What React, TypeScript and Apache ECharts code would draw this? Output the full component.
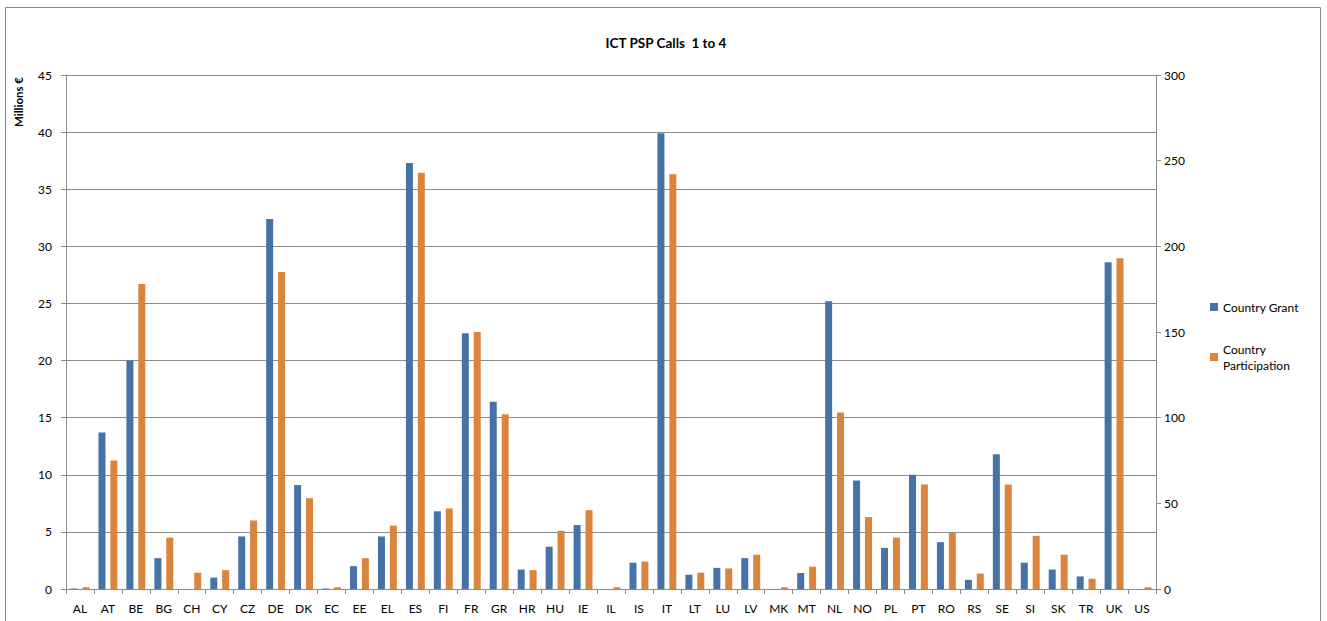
import React, { useEffect, useRef } from "react";
import * as echarts from "echarts";

const countries = ["AL","AT","BE","BG","CH","CY","CZ","DE","DK","EC","EE","EL","ES","FI","FR","GR","HR","HU","IE","IL","IS","IT","LT","LU","LV","MK","MT","NL","NO","PL","PT","RO","RS","SE","SI","SK","TR","UK","US"];
const countryGrant = [0.05,13.7,20.0,2.7,0,1.0,4.6,32.4,9.1,0.05,2.0,4.6,37.3,6.8,22.4,16.4,1.7,3.7,5.6,0,2.3,39.9,1.25,1.85,2.7,0,1.4,25.2,9.5,3.6,10.0,4.1,0.8,11.8,2.3,1.7,1.1,28.6,0];
const countryParticipation = [1,75,178,30,9.5,11,40,185,53,1,18,37,243,47,150,102,11,34,46,1,16,242,9.5,12,20,1,13,103,42,30,61,33,9,61,31,20,6,193,1];
const leftTicks = { min: 0, max: 45, interval: 5 };
const rightTicks = { min: 0, max: 300, interval: 50 };

const FONT = "Lato, 'Open Sans', sans-serif";

export default function App() {
  const ref = useRef<HTMLDivElement>(null);
  useEffect(() => {
    if (!ref.current) return;
    const chart = echarts.init(ref.current, null, { renderer: "svg" });
    chart.setOption({
      animation: false,
      backgroundColor: "#ffffff",
      textStyle: { fontFamily: FONT },
      title: {
        text: "ICT PSP Calls  1 to 4",
        left: 661,
        textAlign: "center",
        top: 31,
        textStyle: { fontSize: 13.5, fontWeight: "bold", color: "#000", fontFamily: FONT },
      },
      graphic: [
        {
          type: "rect",
          shape: { x: 5.5, y: 7.5, width: 1315, height: 620 },
          style: { fill: "none", stroke: "#8a8a8a", lineWidth: 1 },
          silent: true,
        },
      ],
      legend: {
        orient: "vertical",
        left: 1205,
        top: 294,
        itemWidth: 8,
        itemHeight: 8,
        itemGap: 26,
        icon: "rect",
        textStyle: { fontSize: 12, color: "#000", fontFamily: FONT, lineHeight: 16 },
        formatter: (name: string) => (name === "Country Participation" ? "Country\nParticipation" : name),
        data: ["Country Grant", "Country Participation"],
      },
      grid: { left: 66, right: 171, top: 75, bottom: 32, containLabel: false },
      xAxis: {
        type: "category",
        data: countries,
        axisLine: { lineStyle: { color: "#8c8c8c" } },
        axisTick: { show: true, alignWithLabel: false, length: 5, lineStyle: { color: "#8c8c8c" } },
        axisLabel: { color: "#000", fontSize: 12, margin: 13, interval: 0, fontFamily: FONT },
      },
      yAxis: [
        {
          type: "value",
          ...leftTicks,
          name: "Millions €",
          nameLocation: "end",
          nameRotate: 90,
          nameGap: 0,
          nameTextStyle: { fontSize: 11.5, fontWeight: "bold", color: "#000", align: "right", verticalAlign: "bottom", padding: [0, 2, 42, 0] },
          axisLine: { show: true, lineStyle: { color: "#8c8c8c" } },
          axisTick: { show: true, length: 5, lineStyle: { color: "#8c8c8c" } },
          axisLabel: { color: "#000", fontSize: 12, margin: 14, fontFamily: FONT },
          splitLine: { show: true, lineStyle: { color: "#8c8c8c", width: 1 } },
        },
        {
          type: "value",
          ...rightTicks,
          position: "right",
          axisLine: { show: true, lineStyle: { color: "#8c8c8c" } },
          axisTick: { show: true, length: 5, lineStyle: { color: "#8c8c8c" } },
          axisLabel: { color: "#000", fontSize: 12, margin: 8, fontFamily: FONT },
          splitLine: { show: false },
        },
      ],
      series: [
        {
          name: "Country Grant",
          type: "bar",
          yAxisIndex: 0,
          data: countryGrant,
          barWidth: 7,
          barGap: "70%",
          itemStyle: { color: "#4672a8" },
        },
        {
          name: "Country Participation",
          type: "bar",
          yAxisIndex: 1,
          data: countryParticipation,
          barWidth: 7,
          barGap: "70%",
          itemStyle: { color: "#db843d" },
        },
      ],
    });
    return () => chart.dispose();
  }, []);
  return (
    <div
      ref={ref}
      style={{ position: "fixed", left: 0, top: 0, width: 1327, height: 621 }}
    />
  );
}
